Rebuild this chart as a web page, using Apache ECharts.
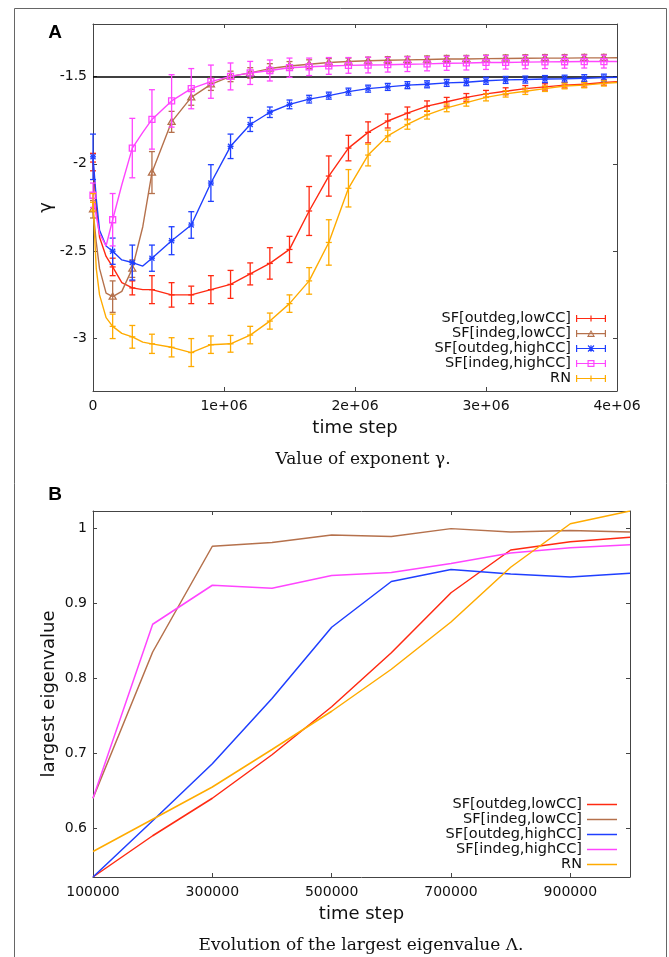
<!DOCTYPE html>
<html>
<head>
<meta charset="utf-8">
<script src="https://cdn.jsdelivr.net/npm/echarts@6/dist/echarts.min.js"></script>
<style>
html, body { margin: 0; padding: 0; background: #fff; }
#chart { width: 669px; height: 957px; }
</style>
</head>
<body>
<div id="chart"></div>
<script>
// ---- panel A : exponent gamma (mean +- error every 150000 steps) ----
var barSteps = [0, 150000, 300000, 450000, 600000, 750000, 900000, 1050000, 1200000,
    1350000, 1500000, 1650000, 1800000, 1950000, 2100000, 2250000, 2400000, 2550000,
    2700000, 2850000, 3000000, 3150000, 3300000, 3450000, 3600000, 3750000, 3900000];
// extra points of the curves between the error bars
var lineSteps = [25000, 50000, 100000, 220000, 380000, 4000000];

var redMean = [-1.99, -2.59, -2.71, -2.72, -2.75, -2.75, -2.72, -2.69, -2.63, -2.57, -2.49,
    -2.27, -2.07, -1.91, -1.82, -1.755, -1.71, -1.67, -1.645, -1.62, -1.60, -1.585, -1.57,
    -1.56, -1.55, -1.545, -1.535];
var redErr = [0.05, 0.05, 0.04, 0.08, 0.07, 0.05, 0.08, 0.08, 0.063, 0.09, 0.075, 0.14, 0.115,
    0.073, 0.06, 0.04, 0.035, 0.03, 0.025, 0.022, 0.02, 0.02, 0.018, 0.018, 0.016, 0.016, 0.015];
var redLine = [-2.25, -2.42, -2.53, -2.68, -2.72, -1.53];

var brownMean = [-2.26, -2.76, -2.60, -2.05, -1.76, -1.62, -1.545, -1.50, -1.48, -1.455, -1.44,
    -1.43, -1.42, -1.415, -1.41, -1.407, -1.405, -1.403, -1.40, -1.40, -1.398, -1.397, -1.396,
    -1.395, -1.395, -1.394, -1.394];
var brownErr = [0.05, 0.09, 0.05, 0.12, 0.06, 0.045, 0.035, 0.03, 0.03, 0.028, 0.025, 0.025,
    0.022, 0.02, 0.02, 0.02, 0.02, 0.02, 0.02, 0.02, 0.02, 0.02, 0.02, 0.02, 0.02, 0.02, 0.02];
var brownLine = [-2.45, -2.6, -2.74, -2.73, -2.36, -1.393];

var blueMean = [-1.96, -2.50, -2.565, -2.54, -2.44, -2.35, -2.11, -1.90, -1.775, -1.705, -1.66,
    -1.63, -1.61, -1.587, -1.57, -1.56, -1.55, -1.545, -1.537, -1.533, -1.525, -1.52, -1.518,
    -1.515, -1.513, -1.51, -1.507];
var blueErr = [0.13, 0.075, 0.1, 0.075, 0.08, 0.076, 0.105, 0.07, 0.04, 0.03, 0.025, 0.022,
    0.02, 0.02, 0.02, 0.02, 0.02, 0.02, 0.02, 0.02, 0.02, 0.02, 0.02, 0.02, 0.02, 0.02, 0.02];
var blueLine = [-2.2, -2.38, -2.47, -2.55, -2.585, -1.505];

var magentaMean = [-2.18, -2.32, -1.91, -1.746, -1.64, -1.57, -1.53, -1.50, -1.48, -1.466, -1.45,
    -1.445, -1.44, -1.437, -1.435, -1.433, -1.43, -1.428, -1.425, -1.423, -1.42, -1.42, -1.418,
    -1.417, -1.416, -1.415, -1.415];
var magentaErr = [0.07, 0.15, 0.17, 0.17, 0.15, 0.115, 0.095, 0.077, 0.066, 0.06, 0.055, 0.05,
    0.048, 0.045, 0.045, 0.042, 0.042, 0.04, 0.04, 0.04, 0.04, 0.038, 0.038, 0.038, 0.037, 0.037, 0.037];
var magentaLine = [-2.3, -2.4, -2.47, -2.12, -1.82, -1.415];

var orangeMean = [-2.22, -2.93, -2.99, -3.03, -3.05, -3.08, -3.035, -3.03, -2.98, -2.90, -2.80,
    -2.67, -2.45, -2.14, -1.95, -1.84, -1.775, -1.72, -1.68, -1.65, -1.62, -1.60, -1.585, -1.57,
    -1.555, -1.55, -1.54];
var orangeErr = [0.05, 0.07, 0.065, 0.055, 0.055, 0.08, 0.05, 0.048, 0.05, 0.046, 0.05, 0.076,
    0.13, 0.107, 0.062, 0.033, 0.027, 0.024, 0.022, 0.02, 0.02, 0.018, 0.018, 0.016, 0.016, 0.015, 0.015];
var orangeLine = [-2.6, -2.75, -2.88, -2.97, -3.02, -1.535];

var gammaRef = -1.5;

// ---- panel B : largest eigenvalue ----
var stepsB = [100000, 200000, 300000, 400000, 500000, 600000, 700000, 800000, 900000, 1000000];
var redB = [0.535, 0.59, 0.64, 0.698, 0.762, 0.834, 0.914, 0.971, 0.982, 0.988];
var brownB = [0.64, 0.835, 0.976, 0.981, 0.991, 0.989, 0.9995, 0.995, 0.997, 0.995];
var blueB = [0.535, 0.61, 0.686, 0.773, 0.868, 0.929, 0.945, 0.939, 0.935, 0.94];
var magentaB = [0.64, 0.872, 0.924, 0.92, 0.937, 0.941, 0.953, 0.967, 0.974, 0.978];
var orangeB = [0.569, 0.612, 0.655, 0.705, 0.756, 0.812, 0.875, 0.948, 1.006, 1.023];

var names = ['SF[outdeg,lowCC]', 'SF[indeg,lowCC]', 'SF[outdeg,highCC]', 'SF[indeg,highCC]', 'RN'];
var colors = ['#ff2a12', '#b5714c', '#1f3fff', '#ff45ff', '#ffab00'];
var markers = ['plus', 'triangle', 'star', 'square', 'plus'];

var FONT = 'DejaVu Sans';

function zipA(mean, err) {
    return barSteps.map(function (t, i) { return [t, mean[i], err[i]]; });
}
function curveA(mean, extra) {
    var pts = barSteps.map(function (t, i) { return [t, mean[i]]; });
    lineSteps.forEach(function (t, i) { pts.push([t, extra[i]]); });
    pts.sort(function (a, b) { return a[0] - b[0]; });
    return pts;
}
function zipB(vals) {
    return stepsB.map(function (t, i) { return [t, vals[i]]; });
}

// error bar + point marker, drawn in data coordinates
function errorBar(marker) {
    return function (params, api) {
        var t = api.value(0), m = api.value(1), e = api.value(2);
        var c = api.coord([t, m]);
        var hi = api.coord([t, m + e]);
        var lo = api.coord([t, m - e]);
        var st = { stroke: api.visual('color'), lineWidth: 1.3, fill: 'none' };
        var x = c[0], y = c[1], r = 3;
        var kids = [
            { type: 'line', shape: { x1: x, y1: hi[1], x2: x, y2: lo[1] }, style: st },
            { type: 'line', shape: { x1: x - r, y1: hi[1], x2: x + r, y2: hi[1] }, style: st },
            { type: 'line', shape: { x1: x - r, y1: lo[1], x2: x + r, y2: lo[1] }, style: st }
        ];
        if (marker === 'plus' || marker === 'star') {
            kids.push({ type: 'line', shape: { x1: x - r, y1: y, x2: x + r, y2: y }, style: st });
        }
        if (marker === 'star') {
            kids.push({ type: 'line', shape: { x1: x - 2.5, y1: y - 2.5, x2: x + 2.5, y2: y + 2.5 }, style: st });
            kids.push({ type: 'line', shape: { x1: x - 2.5, y1: y + 2.5, x2: x + 2.5, y2: y - 2.5 }, style: st });
        }
        if (marker === 'triangle') {
            kids.push({ type: 'polygon', shape: { points: [[x, y - 3.5], [x - 3.5, y + 2.5], [x + 3.5, y + 2.5]] }, style: st });
        }
        if (marker === 'square') {
            kids.push({ type: 'rect', shape: { x: x - 3, y: y - 3, width: 6, height: 6 }, style: st });
        }
        return { type: 'group', children: kids };
    };
}

// legend icons for panel A: line with end caps and the point marker
var base = 'M0,3.4H30V4.6H0Z M0,0.5H1.2V7.5H0Z M28.8,0.5H30V7.5H28.8Z ';
var iconsA = [
    base + 'M14.4,1H15.6V7H14.4Z',
    base + 'M15,0.3L19,7.3H11Z M15,2.5L12.9,6.1H17.1Z',
    base + 'M14.4,0.8H15.6V7.2H14.4Z M11.6,1.4L12.4,0.6L18.4,6.6L17.6,7.4Z M17.6,0.6L18.4,1.4L12.4,7.4L11.6,6.6Z',
    base + 'M11.5,0.5H18.5V7.5H11.5Z M12.7,1.7V6.3H17.3V1.7Z',
    base + 'M14.4,1H15.6V7H14.4Z'
].map(function (p) { return 'path://' + p; });

var meansA = [redMean, brownMean, blueMean, magentaMean, orangeMean];
var errsA = [redErr, brownErr, blueErr, magentaErr, orangeErr];
var linesA = [redLine, brownLine, blueLine, magentaLine, orangeLine];
var valsB = [redB, brownB, blueB, magentaB, orangeB];

var allB = [].concat(redB, brownB, blueB, magentaB, orangeB);
var yMinB = Math.min.apply(null, allB);
var yMaxB = Math.max.apply(null, allB);

var series = [];
names.forEach(function (n, i) {
    var line = {
        name: n, type: 'line', xAxisIndex: 0, yAxisIndex: 0,
        data: curveA(meansA[i], linesA[i]),
        showSymbol: false, symbol: 'none', z: 10 + 2 * i,
        itemStyle: { color: colors[i] },
        lineStyle: { color: colors[i], width: 1.4 }
    };
    if (i === 0) {
        line.markLine = {
            silent: true, symbol: ['none', 'none'], label: { show: false },
            lineStyle: { color: '#000', width: 1.5, type: 'solid' },
            data: [{ yAxis: gammaRef }]
        };
    }
    series.push(line);
    series.push({
        name: n + ' err', type: 'custom', xAxisIndex: 0, yAxisIndex: 0,
        data: zipA(meansA[i], errsA[i]), z: 11 + 2 * i,
        itemStyle: { color: colors[i] },
        renderItem: errorBar(markers[i])
    });
});
names.forEach(function (n, i) {
    series.push({
        name: n, type: 'line', xAxisIndex: 2, yAxisIndex: 2,
        data: zipB(valsB[i]), showSymbol: false, symbol: 'none', z: 10 + i,
        itemStyle: { color: colors[i] },
        lineStyle: { color: colors[i], width: 1.5 }
    });
});

var axisLine = { onZero: false, lineStyle: { color: '#444', width: 1 } };
var tick = { inside: true, length: 4, lineStyle: { color: '#444' } };
var lab = { fontFamily: FONT, fontSize: 14, color: '#111' };
var nameStyle = { fontFamily: FONT, fontSize: 18, color: '#111' };

function xAx(grid, pos, min, max, interval, fmt, name) {
    var a = {
        type: 'value', gridIndex: grid, position: pos, min: min, max: max, interval: interval,
        axisLine: axisLine, axisTick: tick, splitLine: { show: false },
        axisLabel: pos === 'bottom'
            ? Object.assign({ margin: 8, formatter: fmt, showMaxLabel: pos === 'bottom' && grid === 0 }, lab)
            : { show: false }
    };
    if (name) {
        a.name = name; a.nameLocation = 'middle'; a.nameGap = 28; a.nameTextStyle = nameStyle;
        a.nameMoveOverlap = false;
    }
    return a;
}
function yAx(grid, pos, min, max, name, gap) {
    var a = {
        type: 'value', gridIndex: grid, position: pos, min: min, max: max,
        axisLine: axisLine, axisTick: tick, splitLine: { show: false },
        axisLabel: pos === 'left'
            ? Object.assign({ margin: 6, showMinLabel: false, showMaxLabel: false }, lab)
            : { show: false }
    };
    if (name) {
        a.name = name; a.nameLocation = 'middle'; a.nameGap = gap; a.nameRotate = 90;
        a.nameTextStyle = nameStyle;
        a.nameMoveOverlap = false;
    }
    return a;
}

var fmtA = function (v) { return v === 0 ? '0' : (v / 1e6) + 'e+06'; };
var fmtB = function (v) { return String(v); };

var option = {
    animation: false,
    backgroundColor: '#fff',
    grid: [
        { left: 93, top: 24, width: 524, height: 367 },
        { left: 93, top: 511, width: 537, height: 366 }
    ],
    xAxis: [
        xAx(0, 'bottom', 0, 4000000, 1000000, fmtA, 'time step'),
        xAx(0, 'top', 0, 4000000, 1000000),
        xAx(1, 'bottom', 100000, 1000000, 200000, fmtB, 'time step'),
        xAx(1, 'top', 100000, 1000000, 200000)
    ],
    yAxis: [
        yAx(0, 'left', -3.3, -1.2, 'γ', 38),
        yAx(0, 'right', -3.3, -1.2),
        yAx(1, 'left', yMinB, yMaxB, 'largest eigenvalue', 35),
        yAx(1, 'right', yMinB, yMaxB)
    ],
    legend: [
        {
            data: names.map(function (n, i) { return { name: n, icon: iconsA[i] }; }),
            orient: 'vertical', right: 63, top: 311, align: 'right', padding: 0,
            itemWidth: 30, itemHeight: 8, itemGap: 0, selectedMode: false,
            textStyle: { fontFamily: FONT, fontSize: 14.5, color: '#111', lineHeight: 15 }
        },
        {
            data: names.map(function (n) { return { name: n, icon: 'path://M0,0H30V1.5H0Z' }; }),
            orient: 'vertical', right: 52, top: 797, align: 'right', padding: 0,
            itemWidth: 30, itemHeight: 1.5, itemGap: 0, selectedMode: false,
            textStyle: { fontFamily: FONT, fontSize: 14.5, color: '#111', lineHeight: 15 }
        }
    ],
    graphic: [
        { type: 'rect', shape: { x: 14.5, y: 8.5, width: 652, height: 960 },
          style: { fill: 'none', stroke: '#666', lineWidth: 1 }, silent: true },
        { type: 'text', x: 55, y: 33, style: { text: 'A', fontFamily: 'Liberation Sans', fontWeight: 'bold',
          fontSize: 19, fill: '#000', align: 'center', verticalAlign: 'middle' } },
        { type: 'text', x: 55, y: 495, style: { text: 'B', fontFamily: 'Liberation Sans', fontWeight: 'bold',
          fontSize: 19, fill: '#000', align: 'center', verticalAlign: 'middle' } },
        { type: 'text', x: 363, y: 460, style: { text: 'Value of exponent γ.', fontFamily: 'DejaVu Serif',
          fontSize: 17, fill: '#111', align: 'center', verticalAlign: 'middle' } },
        { type: 'text', x: 361, y: 946, style: { text: 'Evolution of the largest eigenvalue Λ.', fontFamily: 'DejaVu Serif',
          fontSize: 17, fill: '#111', align: 'center', verticalAlign: 'middle' } }
    ],
    series: series
};

var myChart = echarts.init(document.getElementById('chart'));
myChart.setOption(option);
</script>
</body>
</html>
